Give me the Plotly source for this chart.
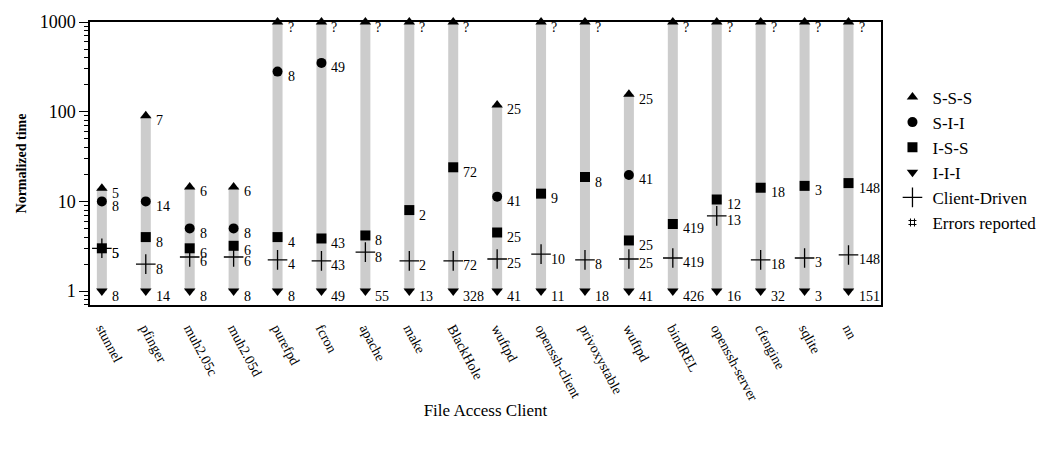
import math
import plotly.graph_objects as go

# Programs (file access clients) along the x axis
clients = ["stunnel", "pfinger", "muh2.05c", "muh2.05d", "purefpd", "fcron", "apache",
           "make", "BlackHole", "wuftpd", "openssh-client", "privoxystable", "wuftpd",
           "bindREL", "openssh-server", "cfengine", "sqlite", "nn"]

# Normalized time per strategy (None = not measured)
sss = [14, 90, 14.5, 14.5, 1000, 1000, 1000, 1000, 1000, 119, 1000, 1000, 157,
       1000, 1000, 1000, 1000, 1000]
sii = [10, 10, 5, 5, 280, 350, None, None, None, 11.3, None, None, 19.7,
       None, None, None, None, None]
iss = [3, 4, 3, 3.2, 4, 3.86, 4.17, 8, 24, 4.5, 12.2, 18.7, 3.67, 5.6, 10.5,
       14.2, 14.9, 16]
iii = [1] * 18
client_driven = [3, 2, 2.4, 2.4, 2.23, 2.17, 2.72, 2.17, 2.17, 2.28, 2.58, 2.23,
                 2.28, 2.34, 6.9, 2.23, 2.34, 2.53]

# Errors reported per strategy
sss_err = ["5", "7", "6", "6", "?", "?", "?", "?", "?", "25", "?", "?", "25",
           "?", "?", "?", "?", "?"]
sii_err = ["8", "14", "8", "8", "8", "49", None, None, None, "41", None, None, "41",
           None, None, None, None, None]
iss_err = ["5", "8", "6", "6", "4", "43", "8", "2", "72", "25", "9", "8", "25",
           "419", "12", "18", "3", "148"]
iii_err = ["8", "14", "8", "8", "8", "49", "55", "13", "328", "41", "11", "18", "41",
           "426", "16", "32", "3", "151"]
cd_err = ["5", "8", "6", "6", "4", "43", "8", "2", "72", "25", "10", "8", "25",
          "419", "13", "18", "3", "148"]

FONT = "Liberation Serif, Times New Roman, serif"
xs = list(range(len(clients)))

fig = go.Figure()

# Gray range bar from I-I-I up to S-S-S
bx, by = [], []
for i in xs:
    bx += [i, i, None]
    by += [iii[i], sss[i], None]
fig.add_trace(go.Scatter(x=bx, y=by, mode="lines", line=dict(color="#cccccc", width=10),
                         showlegend=False, hoverinfo="skip", cliponaxis=False))

series = [
    ("S-S-S", sss, sss_err, dict(symbol="triangle-up", size=10, color="black")),
    ("S-I-I", sii, sii_err, dict(symbol="circle", size=10, color="black")),
    ("I-S-S", iss, iss_err, dict(symbol="square", size=10, color="black")),
    ("I-I-I", iii, iii_err, dict(symbol="triangle-down", size=10, color="black")),
    ("Client-Driven", client_driven, cd_err,
     dict(symbol="cross-thin", size=14, color="black", line=dict(color="black", width=1.3))),
]

annotations = []
for name, vals, errs, marker in series:
    px = [i for i in xs if vals[i] is not None]
    py = [vals[i] for i in px]
    fig.add_trace(go.Scatter(x=px, y=py, mode="markers", name=name, marker=marker,
                             cliponaxis=False))
    # error-count label to the right of each marker (annotations on a log axis use log10)
    for i in px:
        annotations.append(dict(x=i, y=math.log10(vals[i]), xref="x", yref="y",
                                yanchor="middle", xanchor="left", text=errs[i],
                                showarrow=False, xshift=8, yshift=-5,
                                font=dict(family=FONT, size=14, color="black")))

# Legend entry for the error-count labels
fig.add_trace(go.Scatter(x=[None], y=[None], mode="markers", name="Errors reported",
                         marker=dict(symbol="hash-open", size=8, color="black",
                                     line=dict(color="black", width=1))))

fig.update_layout(
    width=1053, height=451,
    margin=dict(l=90, r=162, t=15, b=146),
    paper_bgcolor="white", plot_bgcolor="white",
    font=dict(family=FONT, color="black"),
    annotations=annotations,
    legend=dict(x=1.0145, y=0.797, xanchor="left", yanchor="top",
                font=dict(family=FONT, size=17), tracegroupgap=0,
                bgcolor="rgba(0,0,0,0)"),
    xaxis=dict(range=[-0.27, 17.74], tickvals=xs, ticktext=clients, tickangle=62,
               showgrid=False, zeroline=False, showline=True, linecolor="black",
               linewidth=1.5, mirror=True, ticks="", ticklabelstandoff=8,
               tickfont=dict(family=FONT, size=14),
               title=dict(text="File Access Client", font=dict(family=FONT, size=17),
                          standoff=0)),
    yaxis=dict(type="log", range=[-0.155, 3], tickvals=[1, 10, 100, 1000],
               ticktext=["1", "10", "100", "1000"], showgrid=False, zeroline=False,
               showline=True, linecolor="black", linewidth=1.5, mirror=True,
               ticks="outside", ticklen=9, tickwidth=1.2, tickcolor="black",
               minor=dict(ticks="outside", ticklen=4, tickwidth=1, tickcolor="black",
                          dtick="D1", showgrid=False),
               tickfont=dict(family=FONT, size=18),
               title=dict(text="<b>Normalized time</b>", font=dict(family=FONT, size=14),
                          standoff=10)),
)

fig.write_html("out.html")
